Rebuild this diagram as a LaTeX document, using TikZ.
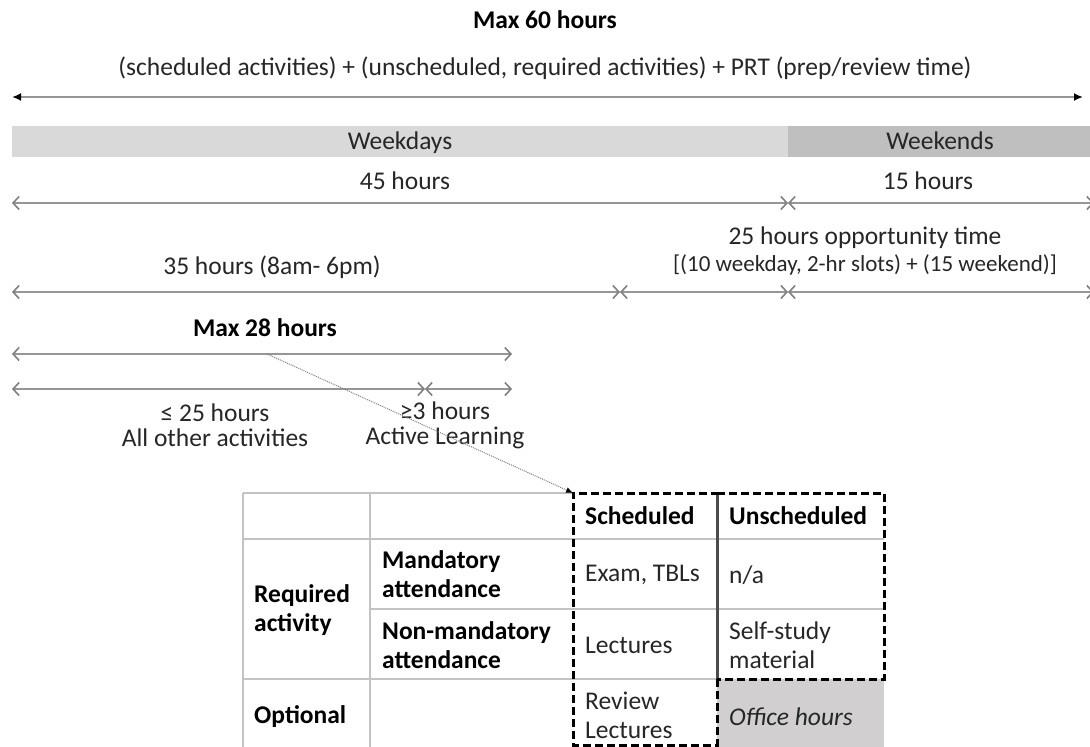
\documentclass[tikz,border=0pt]{standalone}
\usepackage{fontspec}
\setmainfont{Carlito}
\usetikzlibrary{positioning,arrows.meta}
\definecolor{txt}{RGB}{38,38,38}
\definecolor{wkday}{RGB}{217,217,217}
\definecolor{wkend}{RGB}{191,191,191}
\definecolor{rule}{RGB}{150,150,150}
\definecolor{grid}{RGB}{195,195,195}
\definecolor{office}{RGB}{209,207,207}
\tikzstyle{txtnode} = [text=txt, inner sep=0pt, font=\fontsize{25.5}{25}\selectfont]
\tikzstyle{boldtxt} = [txtnode, text=black, font=\fontsize{25.5}{25}\selectfont\bfseries]
\tikzstyle{smalltxt} = [txtnode, font=\fontsize{23}{25}\selectfont]
\tikzstyle{bar} = [txtnode, minimum height=31pt, text height=17pt, text depth=1pt]
\tikzstyle{spanline} = [draw=rule, line width=1.6pt, {Straight Barb[length=6pt,width=13pt,color=gray]}-{Straight Barb[length=6pt,width=13pt,color=gray]}]
\tikzstyle{totalline} = [draw=rule, line width=1.8pt, {Latex[length=9pt,width=8pt,color=black]}-{Latex[length=9pt,width=8pt,color=black]}]
\tikzstyle{cell} = [txtnode, anchor=west, align=left, font=\fontsize{25.5}{29}\selectfont]
\tikzstyle{headcell} = [cell, text=black, font=\fontsize{25.5}{29}\selectfont\bfseries]
\tikzstyle{gridline} = [draw=grid, line width=1.5pt]
\tikzstyle{dashbox} = [draw=black, line width=3pt, dash pattern=on 8pt off 4pt]

\begin{document}
\begin{tikzpicture}[x=1pt, y=-1pt]
    \useasboundingbox (0,0) rectangle (1090,747);

    \node[boldtxt] (max60) at (545,20) {Max 60 hours};
    \node[txtnode] (sum) at (545,68) {(scheduled activities) + (unscheduled, required activities) + PRT (prep/review time)};
    \coordinate (t0) at (12,97);
    \coordinate (t1) at (1083,97);
    \draw[totalline] (t0) -- (t1);

    \node[bar, fill=wkday, minimum width=776pt] (weekdays) at (400,141) {Weekdays};
    \node[bar, fill=wkend, minimum width=304pt] (weekends) at (940,141) {Weekends};

    \node[txtnode] (h45) at (405,181) {45 hours};
    \node[txtnode] (h15) at (928,181) {15 hours};
    \coordinate (w0) at (12,203);
    \coordinate (w1) at (788,203);
    \coordinate (w2) at (1094,203);
    \draw[spanline] (w0) -- (w1);
    \draw[spanline] (w1) -- (w2);

    \node[txtnode] (h35) at (272,267) {35 hours (8am- 6pm)};
    \node[txtnode] (h25) at (865,238) {25 hours opportunity time};
    \node[smalltxt] (slots) at (865,265) {[(10 weekday, 2-hr slots) + (15 weekend)]};
    \coordinate (d0) at (12,292);
    \coordinate (d1) at (620,292);
    \coordinate (d2) at (788,292);
    \coordinate (d3) at (1094,292);
    \draw[spanline] (d0) -- (d1);
    \draw[spanline] (d1) -- (d2);
    \draw[spanline] (d2) -- (d3);

    \node[boldtxt] (max28) at (265,328) {Max 28 hours};
    \coordinate (m0) at (12,354);
    \coordinate (m1) at (512,354);
    \draw[spanline] (m0) -- (m1);
    \coordinate (s0) at (12,389);
    \coordinate (s1) at (425,389);
    \coordinate (s2) at (512,389);
    \draw[spanline] (s0) -- (s1);
    \draw[spanline] (s1) -- (s2);
    \node[txtnode, align=center] (other) at (215,425) {≤ 25 hours\\All other activities};
    \node[txtnode, align=center] (active) at (445,425) {≥3 hours\\Active Learning};

    % table
    \fill[office] (717,679) rectangle (884,750);
    \draw[gridline] (243,493) -- (573,493);
    \draw[gridline] (243,539) -- (884,539);
    \draw[gridline] (370,609) -- (884,609);
    \draw[gridline] (243,679) -- (717,679);
    \draw[gridline] (243,493) -- (243,750);
    \draw[gridline] (370,493) -- (370,750);

    \node[headcell] (sched) at (585,516) {Scheduled};
    \node[headcell] (unsched) at (729,516) {Unscheduled};
    \node[headcell] (required) at (254,610) {Required\\activity};
    \node[headcell] (mand) at (382,574) {Mandatory\\attendance};
    \node[headcell] (nonmand) at (382,645) {Non-mandatory\\attendance};
    \node[headcell] (optional) at (254,717) {Optional};
    \node[cell] (exam) at (585,575) {Exam, TBLs};
    \node[cell] (na) at (729,575) {n/a};
    \node[cell] (lect) at (585,645) {Lectures};
    \node[cell] (self) at (729,645) {Self-study\\material};
    \node[cell] (review) at (585,715) {Review\\Lectures};
    \node[cell, font=\fontsize{25.5}{29}\selectfont\itshape] (office) at (729,717) {Office hours};

    \coordinate (b0) at (573,493);
    \coordinate (b1) at (717,493);
    \coordinate (b2) at (884,493);
    \coordinate (b3) at (884,679);
    \coordinate (b4) at (717,679);
    \coordinate (b5) at (717,745);
    \coordinate (b6) at (573,745);
    \draw[draw=black!70, line width=3pt] (b1) -- (b4);
    \draw[dashbox] (b1) -- (b2) -- (b3) -- (b4);
    \draw[dashbox] (b4) -- (b5) -- (b6) -- (b0) -- (b1);

    \coordinate (ptr) at (267,354);
    \draw[draw=gray, densely dotted, line width=1pt, -{Latex[length=7pt,width=6pt,color=black]}] (ptr) -- (b0);
\end{tikzpicture}
\end{document}
